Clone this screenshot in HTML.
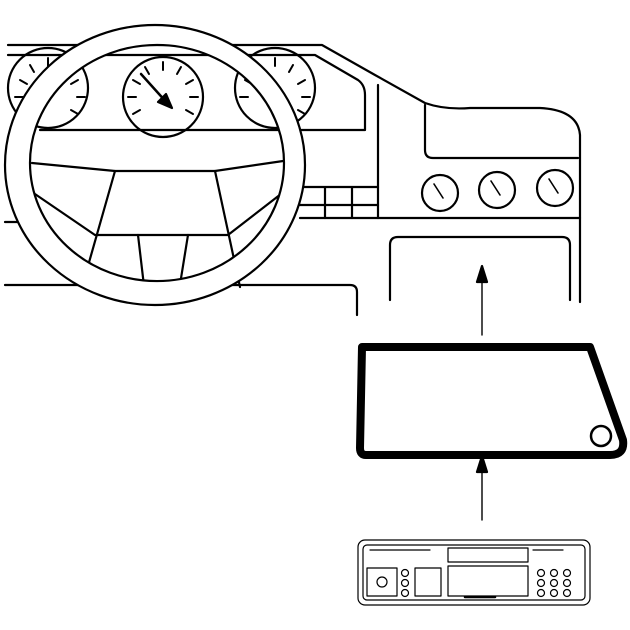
<!DOCTYPE html>
<html><head><style>body{margin:0;background:#fff}svg{display:block}</style></head><body>
<svg width="630" height="630" viewBox="0 0 630 630" fill="none" stroke="#000" stroke-width="2.2" stroke-linecap="round" stroke-linejoin="round">
<!-- dash top -->
<path d="M8 45 H322 L375 75 L425 103 Q445 110 470 108 H540 Q578 110 580 135 V302"/>
<path d="M8 55 H315 L358 80 Q365 85 365 95 V130 H40"/>
<path d="M378 85 V218"/>
<path d="M425 105 V150 Q425 158 433 158 H578"/>
<path d="M300 218 H580"/>
<path d="M5 222 H30"/>
<path d="M300 205 H378 M302 187 H378 M325 187 V218 M352 187 V218"/>
<path d="M390 300 V245 Q390 237 398 237 H562 Q570 237 570 245 V300"/>
<path d="M5 285 H350 Q357 285 357 292 V315"/>
<!-- gauges -->
<circle cx="163" cy="97" r="40"/>
<circle cx="48" cy="88" r="40"/>
<circle cx="275" cy="88" r="40"/>
<g stroke-width="2">
<path d="M163 62v8M145 67l4 7M181 67l-4 7M133 80l7 4M193 80l-7 4M128 97h8M198 97h-8M133 114l7-4M193 114l-7-4"/>
<path d="M30 65l4 7M48 58v8M66 65l-4 7M78 80l-7 4M85 97h-8M78 114l-7-4M15 97h8M20 80l7 4"/>
<path d="M275 58v8M257 65l4 7M293 65l-4 7M305 80l-7 4M310 97h-8M305 114l-7-4M240 97h8M245 80l7 4"/>
</g>
<path d="M141 74 L168 104" stroke-width="2.5"/>
<path d="M172 108 L158 102 L166 94 Z" fill="#000"/>
<g>
<circle cx="440" cy="193" r="18"/><circle cx="497" cy="190" r="18"/><circle cx="555" cy="188" r="18"/>
<path d="M434 184l9 14M491 181l9 14M549 179l9 14" stroke-width="1.6"/>
</g>
<!-- wheel inner content -->
<path d="M32 163 L115 171 H215 L290 160"/>
<path d="M115 171 L82 287 M215 171 L240 287"/>
<path d="M95 235 H228 M32 192 L95 235 M290 187 L228 235"/>
<path d="M138 235 L146 303 M188 235 L177 303"/>
<!-- wheel ring -->
<path fill="#fff" fill-rule="evenodd" d="M5 165 A150 140 0 1 0 305 165 A150 140 0 1 0 5 165 Z M30 163 A127 118 0 1 1 284 163 A127 118 0 1 1 30 163 Z"/>
<!-- arrows -->
<path d="M482 335 V275 M482 520 V465" stroke-width="1.4"/>
<path d="M482 266 L477 282 H487 Z M482 456 L477 472 H487 Z" fill="#000"/>
<!-- screen -->
<path d="M362 347 H590 L623 440 Q625 455 610 455 H366 Q360 455 360 448 Z" stroke-width="8"/>
<circle cx="601" cy="436" r="10" stroke-width="2.5"/>
<!-- radio -->
<g stroke-width="1.2">
<rect x="358" y="540" width="232" height="65" rx="7"/>
<rect x="363" y="545" width="222" height="55" rx="4"/>
<rect x="448" y="548" width="80" height="14"/>
<rect x="448" y="566" width="80" height="30"/>
<rect x="367" y="568" width="30" height="28"/>
<circle cx="382" cy="582" r="5"/>
<rect x="415" y="568" width="26" height="28"/>
<path d="M370 550h60M533 550h30"/>
<circle cx="405" cy="573" r="3.5"/><circle cx="405" cy="583" r="3.5"/><circle cx="405" cy="593" r="3.5"/>
<circle cx="541" cy="573" r="3.5"/><circle cx="554" cy="573" r="3.5"/><circle cx="567" cy="573" r="3.5"/>
<circle cx="541" cy="583" r="3.5"/><circle cx="554" cy="583" r="3.5"/><circle cx="567" cy="583" r="3.5"/>
<circle cx="541" cy="593" r="3.5"/><circle cx="554" cy="593" r="3.5"/><circle cx="567" cy="593" r="3.5"/>
<path d="M465 597h30" stroke-width="2.5"/>
</g>
</svg>
</body></html>
